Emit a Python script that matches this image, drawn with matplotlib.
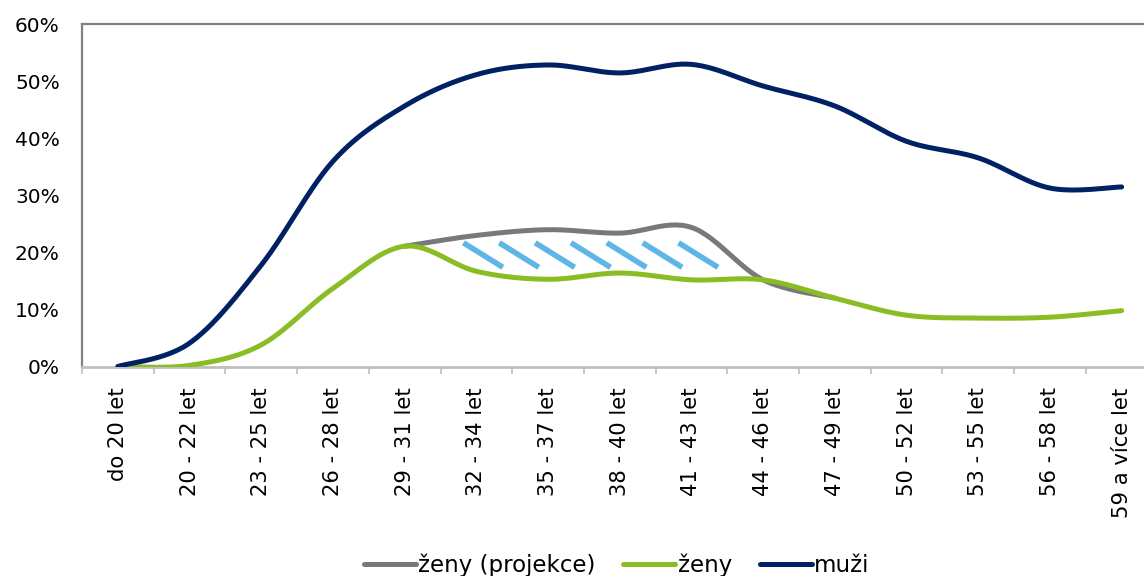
import matplotlib

matplotlib.use("Agg")
import matplotlib.pyplot as plt
import numpy as np
from matplotlib.ticker import FixedLocator, PercentFormatter

categories = [
	"do 20 let", "20 - 22 let", "23 - 25 let", "26 - 28 let", "29 - 31 let",
	"32 - 34 let", "35 - 37 let", "38 - 40 let", "41 - 43 let", "44 - 46 let",
	"47 - 49 let", "50 - 52 let", "53 - 55 let", "56 - 58 let", "59 a více let",
]
muzi = [0.0, 4.1, 17.8, 36.0, 45.7, 51.2, 52.9, 51.5, 53.0, 49.2, 45.7, 39.5, 36.6, 31.3, 31.5]
zeny = [0.0, 0.2, 3.8, 13.7, 21.1, 16.7, 15.3, 16.4, 15.2, 15.2, 12.0, 9.0, 8.5, 8.65, 9.8]
# projection only covers 29-31 .. 47-49
proj_start = 4
zeny_projekce = [21.1, 23.0, 24.0, 23.4, 24.4, 15.2, 12.0]

GRAY = "#77797C"
GREEN = "#8ABD24"
NAVY = "#002163"
HATCH = "#5FB5E6"


def smooth(x, y, n=30):
	"""Bezier smoothing through the points, like a spreadsheet 'smoothed line'."""
	x = np.asarray(x, float)
	y = np.asarray(y, float)
	pts = np.column_stack([x, y])
	out = [pts[0]]
	t = np.linspace(0, 1, n)[1:, None]
	for i in range(len(pts) - 1):
		p0 = pts[max(i - 1, 0)]
		p1 = pts[i]
		p2 = pts[i + 1]
		p3 = pts[min(i + 2, len(pts) - 1)]
		c1 = p1 + (p2 - p0) / 6
		c2 = p2 - (p3 - p1) / 6
		seg = (1 - t) ** 3 * p1 + 3 * (1 - t) ** 2 * t * c1 + 3 * (1 - t) * t ** 2 * c2 + t ** 3 * p2
		out.extend(seg)
	out = np.array(out)
	return out[:, 0], out[:, 1]


fig = plt.figure(figsize=(11.44, 5.76), dpi=100)
ax = fig.add_axes([0.0717, 0.3637, 0.9401, 0.5938])

x = np.arange(len(categories))
xp = np.arange(proj_start, proj_start + len(zeny_projekce))

lw = 3.6
for xs, ys, col, lab in [
	(xp, zeny_projekce, GRAY, "ženy (projekce)"),
	(x, zeny, GREEN, "ženy"),
	(x, muzi, NAVY, "muži"),
]:
	sx, sy = smooth(xs, ys)
	ax.plot(sx, sy, color=col, lw=lw, solid_capstyle="round", label=lab, zorder=3)

# diagonal dashes marking the gap between projection and actual values
hatch_x = np.arange(5, 8.5, 0.5) - 0.18
for hx in hatch_x:
	ax.plot([hx, hx + 0.55], [21.7, 17.4], color=HATCH, lw=4, solid_capstyle="butt", zorder=2)

ax.set_xlim(-0.5, len(categories) - 0.5)
ax.set_ylim(0, 60)
ax.yaxis.set_major_locator(FixedLocator(np.arange(0, 61, 10)))
ax.yaxis.set_major_formatter(PercentFormatter(decimals=0))

ax.set_xticks(x)
ax.set_xticklabels(categories, rotation=90, va="top", ha="center")
ax.xaxis.set_minor_locator(FixedLocator(np.arange(-0.5, len(categories), 1.0)))
ax.tick_params(axis="x", which="major", length=0, pad=15, labelsize=15.2, colors="black")
ax.tick_params(axis="x", which="minor", length=5, width=1.2, color="#BFBFBF")
ax.tick_params(axis="y", length=0, pad=16, labelsize=14.5)

for side in ["left", "top", "right"]:
	ax.spines[side].set_color("#828282")
	ax.spines[side].set_linewidth(1.6)
ax.spines["bottom"].set_color("#BFBFBF")
ax.spines["bottom"].set_linewidth(2)

fig.legend(
	loc="center", bbox_to_anchor=(0.539, 1 - 565 / 576), bbox_transform=fig.transFigure,
	ncol=3, frameon=False, fontsize=16.5, handlelength=2.27, handletextpad=0.1,
	columnspacing=1.22,
)

fig.savefig("out.png", dpi=100)
